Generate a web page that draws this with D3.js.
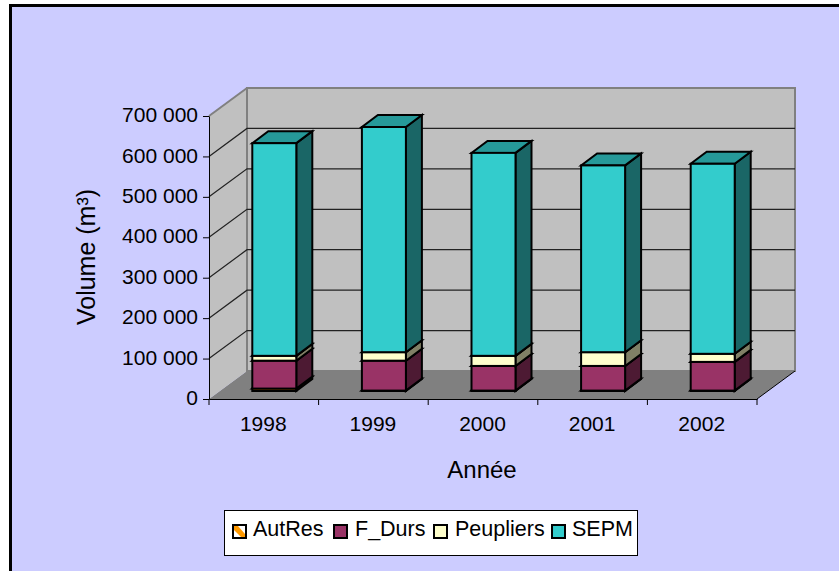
<!DOCTYPE html>
<html>
<head>
<meta charset="utf-8">
<script src="https://cdn.jsdelivr.net/npm/d3@7"></script>
<style>
  html, body { margin: 0; padding: 0; background: #fff; }
  svg { display: block; }
  text { font-family: "Liberation Sans", Arial, sans-serif; fill: #000; }
</style>
</head>
<body>
<svg id="chart" width="839" height="571"></svg>
<script>
// Annual harvest volumes, stacked by wood category
const years = ["1998", "1999", "2000", "2001", "2002"];
const seriesNames = ["AutRes", "F_Durs", "Peupliers", "SEPM"];
const autRes = [6000, 1000, 1000, 1000, 1000];
const fDurs = [69000, 74000, 61000, 61000, 71000];
const peupliers = [12000, 21000, 25000, 34000, 20000];
const sepm = [526000, 557000, 502000, 462000, 470000];
const tickValues = [0, 100000, 200000, 300000, 400000, 500000, 600000, 700000];

const frontColors = ["#ff9900", "#993366", "#ffffcc", "#33cccc"];
const sideColors = ["#804d00", "#4d1a33", "#808066", "#1a6666"];
const topColors = ["#bf7300", "#732650", "#bfbf99", "#269999"];

const svg = d3.select("#chart");
const plotLeft = 209, plotRight = 757, plotBase = 399, plotTop = 116;
const wallDx = 38, wallDy = -28;          // depth of the whole plot box
const barDx = 16, barDy = -12;            // depth of one bar
const barShiftX = 10.5, barShiftY = -8;   // bars stand mid-way inside the box
const labelFont = '"Liberation Sans", Arial, sans-serif';

const x = d3.scaleBand().domain(years).range([plotLeft, plotRight]);
const y = d3.scaleLinear().domain([0, 700000]).range([plotBase, plotTop]);
const poly = pts => pts.map(p => p.join(",")).join(" ");

// Page background and frame
svg.append("rect").attr("x", 10.5).attr("y", 5.5).attr("width", 840).attr("height", 580)
  .attr("fill", "#ccccff").attr("stroke", "#000").attr("stroke-width", 3);

// Plot box: floor, side wall, back wall
const wallGrey = "#808080", wallFill = "#c0c0c0";
svg.append("polygon")
  .attr("points", poly([[plotLeft, plotBase], [plotRight, plotBase], [plotRight + wallDx, plotBase + wallDy], [plotLeft + wallDx, plotBase + wallDy]]))
  .attr("fill", "#808080");
svg.append("polygon")
  .attr("points", poly([[plotLeft, plotBase], [plotLeft + wallDx, plotBase + wallDy], [plotLeft + wallDx, plotTop + wallDy], [plotLeft, plotTop]]))
  .attr("fill", wallFill);
svg.append("rect")
  .attr("x", plotLeft + wallDx).attr("y", plotTop + wallDy)
  .attr("width", plotRight - plotLeft).attr("height", plotBase - plotTop)
  .attr("fill", wallFill).attr("stroke", wallGrey).attr("stroke-width", 2);
svg.append("line")
  .attr("x1", plotLeft).attr("y1", plotTop).attr("x2", plotLeft + wallDx).attr("y2", plotTop + wallDy)
  .attr("stroke", wallGrey).attr("stroke-width", 2);

// Gridlines run along the side wall and across the back wall
const grid = tickValues.slice(1, -1);
svg.append("g").selectAll("polyline").data(grid).join("polyline")
  .attr("points", d => poly([[plotLeft, y(d)], [plotLeft + wallDx, y(d) + wallDy], [plotRight + wallDx, y(d) + wallDy]]))
  .attr("fill", "none").attr("stroke", "#222").attr("stroke-width", 1.2);

// Floor edge on the right
svg.append("line")
  .attr("x1", plotRight).attr("y1", plotBase).attr("x2", plotRight + wallDx).attr("y2", plotBase + wallDy)
  .attr("stroke", "#000").attr("stroke-width", 1);

// Stacked 3D bars
const barWidth = 44;
const barsLayer = svg.append("g").attr("stroke", "#000").attr("stroke-width", 2).attr("stroke-linejoin", "miter");
years.forEach((year, i) => {
  const values = [autRes[i], fDurs[i], peupliers[i], sepm[i]];
  const x0 = x(year) + x.bandwidth() / 2 - barWidth / 2 + barShiftX;
  const x1 = x0 + barWidth;
  let total = 0;
  values.forEach((v, s) => {
    const yb = y(total) + barShiftY;
    total += v;
    const yt = y(total) + barShiftY;
    barsLayer.append("polygon")
      .attr("points", poly([[x1, yb], [x1 + barDx, yb + barDy], [x1 + barDx, yt + barDy], [x1, yt]]))
      .attr("fill", sideColors[s]);
    barsLayer.append("polygon")
      .attr("points", poly([[x0, yt], [x1, yt], [x1 + barDx, yt + barDy], [x0 + barDx, yt + barDy]]))
      .attr("fill", topColors[s]);
    barsLayer.append("rect")
      .attr("x", x0).attr("y", yt).attr("width", barWidth).attr("height", yb - yt)
      .attr("fill", frontColors[s]);
  });
});

// Axes
const fmt = d => d3.format(",")(d).replace(/,/g, " ");
const yAxis = svg.append("g").attr("transform", `translate(${plotLeft},0)`)
  .call(d3.axisLeft(y).tickValues(tickValues).tickFormat(fmt).tickSize(6).tickSizeOuter(0));
yAxis.selectAll("text").attr("font-size", 21).attr("dy", "0.27em").attr("x", -11)
  .style("font-family", labelFont);
const xAxis = svg.append("g").attr("transform", `translate(0,${plotBase})`)
  .call(d3.axisBottom(x).tickSize(0).tickSizeOuter(0));
xAxis.selectAll("text").attr("font-size", 21).attr("x", -0.5).attr("y", 32).attr("dy", 0)
  .style("font-family", labelFont);
xAxis.selectAll("line.bound").data(d3.range(6)).join("line").attr("class", "bound")
  .attr("x1", i => plotLeft + i * x.bandwidth()).attr("x2", i => plotLeft + i * x.bandwidth())
  .attr("y1", 0).attr("y2", 6).attr("stroke", "#000");
svg.selectAll(".domain").attr("stroke", "#000");

// Axis titles
svg.append("text").attr("x", 482).attr("y", 478).attr("text-anchor", "middle").attr("font-size", 24).text("Année");
svg.append("text").attr("transform", "translate(95,257) rotate(-90)").attr("text-anchor", "middle").attr("font-size", 25).text("Volume (m³)");

// Legend
const legend = svg.append("g");
legend.append("rect").attr("x", 224.5).attr("y", 510.5).attr("width", 413).attr("height", 45)
  .attr("fill", "#fff").attr("stroke", "#000").attr("stroke-width", 1);
const legendSwatchX = [233, 334, 434, 552];
const legendTextX = [253, 355, 455, 572];
seriesNames.forEach((name, i) => {
  legend.append("rect").attr("x", legendSwatchX[i]).attr("y", 525).attr("width", 13).attr("height", 13)
    .attr("fill", i === 0 ? "#fff" : frontColors[i]).attr("stroke", "#000").attr("stroke-width", 2);
  if (i === 0) {
    legend.append("polygon")
      .attr("points", poly([[234, 526], [238, 526], [245, 534], [245, 537], [241, 537], [234, 530]]))
      .attr("fill", frontColors[0]);
  }
  legend.append("text").attr("x", legendTextX[i]).attr("y", 536).attr("font-size", 21.5).text(name);
});
</script>
</body>
</html>
